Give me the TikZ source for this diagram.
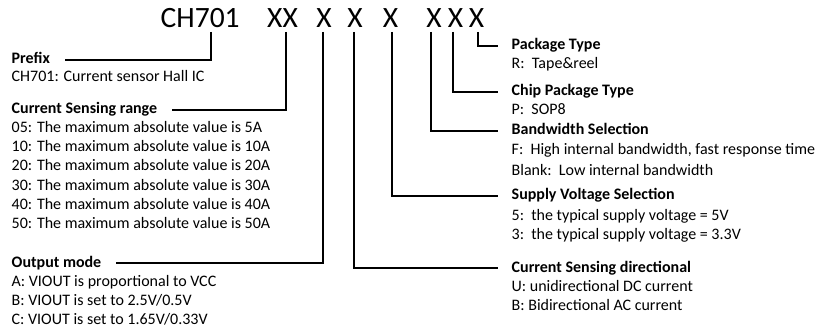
\documentclass[tikz,border=0pt]{standalone}
\usepackage{fontspec}
\setmainfont{Carlito}
\begin{document}
\begin{tikzpicture}[x=1pt,y=-1pt,
  lbl/.style={anchor=west,inner sep=0pt,text height=9pt,text depth=1pt,font=\fontsize{16}{18}\selectfont},
  hd/.style={lbl,font=\fontsize{16}{18}\selectfont\bfseries},
  code/.style={anchor=base,inner sep=0pt,font=\fontsize{29.5}{31}\selectfont},
  conn/.style={line width=1.4pt,shorten >=15pt}]
\useasboundingbox (0,0) rectangle (816,331);
% part number
\node[code,anchor=base west] (ch) at (160.5,28) {CH701};
\node[code] (xx) at (282.5,28) {XX};
\node[code] (x1) at (324,28) {X};
\node[code] (x2) at (355,28) {X};
\node[code] (x3) at (390.5,28) {X};
\node[code] (x4) at (434,28) {X};
\node[code] (x5) at (455.5,28) {X};
\node[code] (x6) at (476.5,28) {X};
% line starts
\coordinate (t0) at (211,32);
\coordinate (t1) at (286,32);
\coordinate (t2) at (323,32);
\coordinate (t3) at (354,32);
\coordinate (t4) at (392,32);
\coordinate (t5) at (431,32);
\coordinate (t6) at (453,32);
\coordinate (t7) at (478,32);
% left side
\node[hd] (prefix) at (11.5,60) {Prefix};
\node[lbl] (p1) at (11.5,78) {CH701: Current sensor Hall IC};
\node[hd] (range) at (11.5,110) {Current Sensing range};
\node[lbl] (r1) at (11.5,129) {05: The maximum absolute value is 5A};
\node[lbl] (r2) at (11.5,148) {10: The maximum absolute value is 10A};
\node[lbl] (r3) at (11.5,167) {20: The maximum absolute value is 20A};
\node[lbl] (r4) at (11.5,186) {30: The maximum absolute value is 30A};
\node[lbl] (r5) at (11.5,205) {40: The maximum absolute value is 40A};
\node[lbl] (r6) at (11.5,224) {50: The maximum absolute value is 50A};
\node[hd] (output) at (11.5,263) {Output mode};
\node[lbl] (o1) at (11.5,282) {A: VIOUT is proportional to VCC};
\node[lbl] (o2) at (11.5,301) {B: VIOUT is set to 2.5V/0.5V};
\node[lbl] (o3) at (11.5,320) {C: VIOUT is set to 1.65V/0.33V};
% right side
\node[hd] (pkg) at (511.5,46) {Package Type};
\node[lbl] (pk1) at (511.5,65) {R:\ \ Tape\&reel};
\node[hd] (chip) at (511.5,92) {Chip Package Type};
\node[lbl] (c1) at (511.5,111) {P:\ \ SOP8};
\node[hd] (bw) at (511.5,131) {Bandwidth Selection};
\node[lbl] (b1) at (511.5,151) {F:\ \ High internal bandwidth, fast response time};
\node[lbl] (b2) at (511.5,172) {Blank:\ \ Low internal bandwidth};
\node[hd] (vs) at (511.5,196) {Supply Voltage Selection};
\node[lbl] (v1) at (511.5,216) {5:\ \ the typical supply voltage = 5V};
\node[lbl] (v2) at (511.5,235) {3:\ \ the typical supply voltage = 3.3V};
\node[hd] (dir) at (511.5,268) {Current Sensing directional};
\node[lbl] (d1) at (511.5,287) {U: unidirectional DC current};
\node[lbl] (d2) at (511.5,306) {B: Bidirectional AC current};
% connectors
\draw[conn] (t0) |- (prefix.east);
\draw[conn] (t1) |- (range.east);
\draw[conn] (t2) |- (output.east);
\draw[conn,shorten >=14pt] (t3) |- (dir.west);
\draw[conn,shorten >=14pt] (t4) |- (vs.west);
\draw[conn,shorten >=14pt] (t5) |- (bw.west);
\draw[conn,shorten >=14pt] (t6) |- (chip.west);
\draw[conn,shorten >=14pt] (t7) |- (pkg.west);
\end{tikzpicture}
\end{document}
